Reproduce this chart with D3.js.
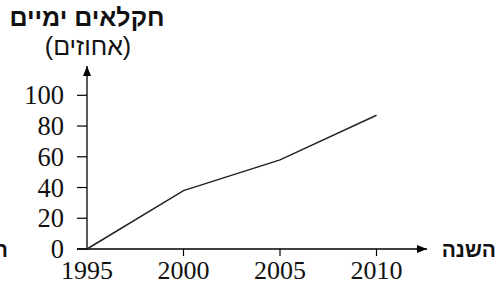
<!DOCTYPE html>
<html>
<head>
<meta charset="utf-8">
<script src="https://cdn.jsdelivr.net/npm/d3@7/dist/d3.min.js"></script>
<style>
  body { margin: 0; background: #fff; }
  svg { display: block; }
</style>
</head>
<body>
<div id="chart"></div>
<script>
const years = [1995, 2000, 2005, 2010];
const percent = [0, 38, 58, 87];
const yTicks = [0, 20, 40, 60, 80, 100];

const yTitle = "חקלאים ימיים";
const yUnit = "(אחוזים)";
const xTitle = "השנה";

const w = 499;
const h = 285;

const numFont = '"Liberation Serif"';
const hebFont = '"Liberation Sans"';

const svg = d3.select("#chart").append("svg").attr("width", w).attr("height", h);

const xScale = d3.scaleLinear().domain([1995, 2010]).range([87, 376.5]);
const yScale = d3.scaleLinear().domain([0, 100]).range([249, 95.3]);

svg.append("defs").append("marker")
  .attr("id", "arrow")
  .attr("viewBox", "0 0 10 10")
  .attr("refX", 10)
  .attr("refY", 5)
  .attr("markerWidth", 10)
  .attr("markerHeight", 10)
  .attr("markerUnits", "userSpaceOnUse")
  .attr("orient", "auto")
  .append("path")
  .attr("d", "M0,1 L10,5 L0,9 Z")
  .attr("fill", "#000");

// axes
svg.append("line")
  .attr("x1", 77).attr("x2", 427)
  .attr("y1", yScale(0)).attr("y2", yScale(0))
  .attr("stroke", "#000").attr("stroke-width", 1.3)
  .attr("marker-end", "url(#arrow)");

svg.append("line")
  .attr("x1", xScale(1995)).attr("x2", xScale(1995))
  .attr("y1", yScale(0)).attr("y2", 66)
  .attr("stroke", "#000").attr("stroke-width", 1.3)
  .attr("marker-end", "url(#arrow)");

// y ticks
svg.selectAll(".ytick")
  .data(yTicks)
  .enter()
  .append("line")
  .attr("x1", 77).attr("x2", xScale(1995))
  .attr("y1", (d) => yScale(d)).attr("y2", (d) => yScale(d))
  .attr("stroke", "#000").attr("stroke-width", 1.2);

svg.selectAll(".ylabel")
  .data(yTicks)
  .enter()
  .append("text")
  .text((d) => d)
  .attr("x", 64)
  .attr("y", (d) => yScale(d) + 9)
  .attr("text-anchor", "end")
  .style("font-family", numFont)
  .style("font-size", "26.5px")
  .style("fill", "#111");

// x ticks
svg.selectAll(".xtick")
  .data(years.slice(1))
  .enter()
  .append("line")
  .attr("x1", (d) => xScale(d)).attr("x2", (d) => xScale(d))
  .attr("y1", yScale(0)).attr("y2", yScale(0) + 7)
  .attr("stroke", "#000").attr("stroke-width", 1.2);

svg.selectAll(".xlabel")
  .data(years)
  .enter()
  .append("text")
  .text((d) => d)
  .attr("x", (d) => xScale(d))
  .attr("y", 279)
  .attr("text-anchor", "middle")
  .style("font-family", numFont)
  .style("font-size", "26px")
  .style("fill", "#111");

// data line
const line = d3.line()
  .x((d, i) => xScale(years[i]))
  .y((d) => yScale(d));

svg.append("path")
  .datum(percent)
  .attr("d", line)
  .attr("fill", "none")
  .attr("stroke", "#222")
  .attr("stroke-width", 1.5);

// titles
svg.append("text")
  .text(yTitle)
  .attr("x", 87)
  .attr("y", 26)
  .attr("text-anchor", "middle")
  .style("font-family", hebFont)
  .style("font-weight", "bold")
  .style("font-size", "25px")
  .style("fill", "#111");

svg.append("text")
  .text(yUnit)
  .attr("x", 88)
  .attr("y", 55)
  .attr("text-anchor", "middle")
  .style("font-family", hebFont)
  .style("font-size", "25px")
  .style("fill", "#111");

svg.append("text")
  .text(xTitle)
  .attr("x", 496)
  .attr("y", 257)
  .attr("text-anchor", "end")
  .style("font-family", hebFont)
  .style("font-weight", "bold")
  .style("font-size", "21px")
  .style("fill", "#111");

// label cut off at the left edge, as in the original
svg.append("text")
  .text("ה")
  .attr("x", 8)
  .attr("y", 257)
  .attr("text-anchor", "end")
  .style("font-family", hebFont)
  .style("font-weight", "bold")
  .style("font-size", "21px")
  .style("fill", "#111");
</script>
</body>
</html>
